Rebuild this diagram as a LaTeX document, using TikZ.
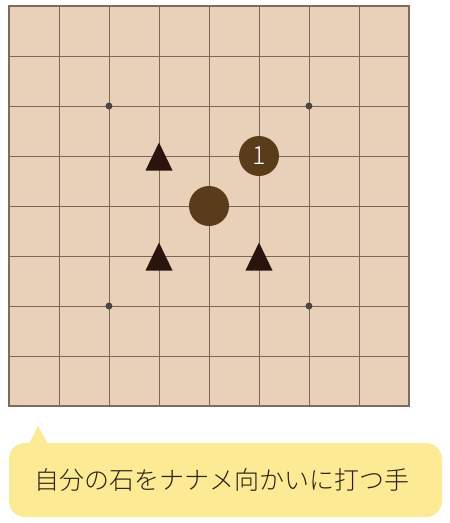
\documentclass[tikz,border=0pt]{standalone}
\usepackage{fontspec}
\newfontfamily\cjk{Noto Sans CJK JP Light}
\setsansfont{Noto Sans}
\definecolor{boardfill}{HTML}{E9D1B9}
\definecolor{gridline}{HTML}{7E6656}
\definecolor{stonebrown}{HTML}{5A3C1A}
\definecolor{trimark}{HTML}{2A140E}
\definecolor{stardot}{HTML}{4A4444}
\definecolor{calloutfill}{HTML}{FCEA94}
\definecolor{textdark}{HTML}{2A2418}
\tikzset{
  gridstyle/.style={draw=gridline, line width=0.9pt},
  stonestyle/.style={circle, fill=stonebrown, minimum size=40pt, inner sep=0pt},
  tristyle/.style={fill=trimark},
  stardotstyle/.style={circle, fill=stardot, minimum size=7pt, inner sep=0pt},
}
\begin{document}
\begin{tikzpicture}[x=1pt,y=-1pt]
\useasboundingbox (0,0) rectangle (450,523);
\fill[white] (0,0) rectangle (450,523);
% board
\fill[boardfill] (9,6) rectangle (409,406);
\foreach \i in {1,...,7}{
  \draw[gridstyle] (9+50*\i,6) -- (9+50*\i,406);
  \draw[gridstyle] (9,6+50*\i) -- (409,6+50*\i);
}
\draw[draw=gridline!80!gray, line width=1.2pt] (9,6) rectangle (409,406);
% star points
\node[stardotstyle] (s1) at (109,106) {};
\node[stardotstyle] (s2) at (309,106) {};
\node[stardotstyle] (s3) at (109,306) {};
\node[stardotstyle] (s4) at (309,306) {};
% triangles
\foreach \x/\y in {159/156,159/256,259/256}{
  \fill[tristyle] (\x,\y-13.5) -- (\x+13.5,\y+14.5) -- (\x-13.5,\y+14.5) -- cycle;
}
% stones
\node[stonestyle] (center) at (209,206) {};
\node[stonestyle, text=white, font=\cjk\fontsize{25}{25}\selectfont] (one) at (259,156) {1};
% callout
\fill[calloutfill, rounded corners=16pt] (9,443) rectangle (442,517);
\fill[calloutfill] (29,444) -- (38,426) -- (48,444) -- cycle;
\node[text=textdark, font=\cjk\fontsize{25}{25}\selectfont] (label) at (222,480) {自分の石をナナメ向かいに打つ手};
\end{tikzpicture}
\end{document}
